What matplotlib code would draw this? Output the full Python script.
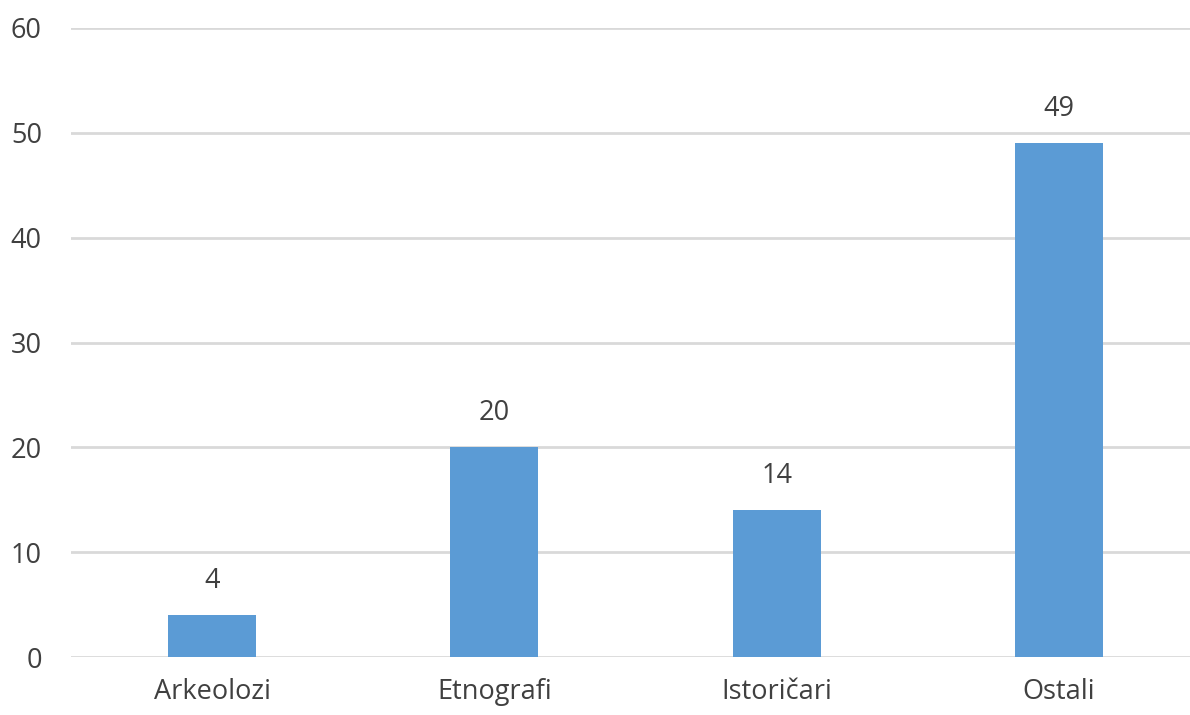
import matplotlib
matplotlib.use('Agg')
import matplotlib.pyplot as plt

# data
categories = ['Arkeolozi', 'Etnografi', 'Istoričari', 'Ostali']
values = [4, 20, 14, 49]
yticks = [0, 10, 20, 30, 40, 50, 60]

plt.rcParams['font.family'] = ['Open Sans', 'DejaVu Sans']
grey = '#404040'

W, H = 1190, 715
fig = plt.figure(figsize=(W / 100, H / 100), dpi=100)
ax = fig.add_axes([71 / W, 58 / H, 1129 / W, 629 / H])

x = range(len(categories))
ax.bar(x, values, width=0.312, color='#5B9BD5', zorder=3)
for i, v in zip(x, values):
    ax.text(i, v + 1.9, str(v), ha='center', va='bottom', fontsize=19.5, color=grey)

ax.set_xlim(-0.5, 3.5)
ax.set_ylim(0, 60)
ax.set_yticks(yticks)
ax.set_xticks(list(x))
ax.set_xticklabels(categories)
ax.yaxis.grid(True, color='#D9D9D9', linewidth=2.0, zorder=0)
ax.tick_params(axis='both', length=0, labelsize=19.5, labelcolor=grey)
ax.tick_params(axis='y', pad=21)
ax.tick_params(axis='x', pad=15)
for s in ax.spines.values():
    s.set_visible(False)

fig.savefig('out.png', dpi=100)
